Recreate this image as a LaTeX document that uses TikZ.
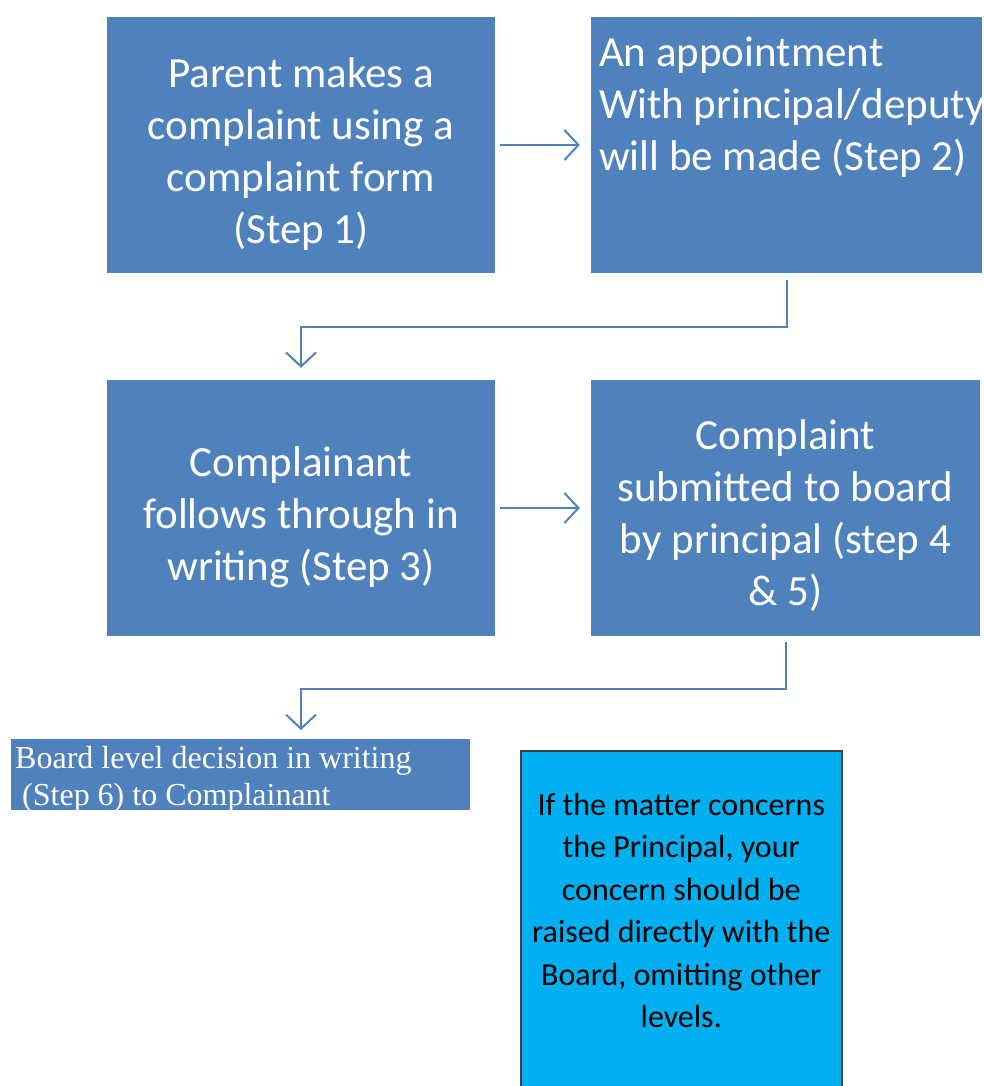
\documentclass[tikz,border=0pt]{standalone}
\usepackage{fontspec}
\setmainfont{Carlito}
\newfontfamily\timesfont{Liberation Serif}
\usetikzlibrary{calc, arrows.meta}
\definecolor{stepblue}{HTML}{4F81BD}
\definecolor{notecyan}{HTML}{00B0F0}
\definecolor{notegray}{HTML}{404040}

\begin{document}
\begin{tikzpicture}[x=1pt, y=-1pt,
    stepbox/.style={fill=stepblue, minimum width=388pt, minimum height=256pt, inner sep=0pt},
    steptext/.style={text=white, inner sep=0pt, align=center, font=\fontsize{43}{52}\selectfont},
    flow/.style={draw=stepblue, line width=2pt, -{Straight Barb[length=14pt, width=30pt, line width=2pt]}}]
    \useasboundingbox (0,0) rectangle (983,1086);
    % steps
    \node[stepbox] (b1) at (301,145) {};
    \node[steptext] (b1text) at ([yshift=-9pt]b1.center) {Parent makes a\\complaint using a\\complaint form\\(Step 1)};
    \node[stepbox, minimum width=391pt] (b2) at (786.5,145) {};
    \node[steptext, anchor=north west, align=left] (b2text) at ([xshift=8pt, yshift=-20pt]b2.north west) {An appointment\\With principal/deputy\\will be made (Step 2)};
    \node[stepbox] (b3) at (301,508) {};
    \node[steptext] (b3text) at ([yshift=-9pt]b3.center) {Complainant\\follows through in\\writing (Step 3)};
    \node[stepbox, minimum width=389pt] (b4) at (785.5,508) {};
    \node[steptext] (b4text) at ([yshift=-8pt]b4.center) {Complaint\\submitted to board\\by principal (step 4\\\& 5)};
    \node[fill=stepblue, anchor=north west, minimum width=459pt, minimum height=71pt, inner sep=0pt] (b5) at (11,739) {};
    \node[text=white, anchor=west, align=left, inner sep=0pt, font=\timesfont\fontsize{32}{37}\selectfont] (b5text) at ([xshift=4pt, yshift=-5pt]b5.west) {Board level decision in writing\\\hspace*{7pt}(Step 6) to Complainant};
    % note
    \node[fill=notecyan, draw=notegray, line width=1.5pt, anchor=north west, minimum width=321pt, minimum height=345pt] (note) at (520,750) {};
    \node[anchor=north, align=center, inner sep=0pt, font=\fontsize{32}{42.5}\selectfont] (notetext) at ([yshift=-43pt]note.north) {If the matter concerns\\the Principal, your\\concern should be\\raised directly with the\\Board, omitting other\\levels.};
    % arrows
    \draw[flow, shorten <=5pt, shorten >=11pt] (b1.east) -- (b2.west |- b1.east);
    \draw[flow, shorten <=7pt, shorten >=12pt] (b2.south) -- ++(0,54) -| (b3.north);
    \draw[flow, shorten <=5pt, shorten >=11pt] (b3.east) -- (b4.west |- b3.east);
    \draw[flow, shorten <=6pt, shorten >=9pt] (b4.south) -- ++(0,53) -| (b3.south |- b5.north);
\end{tikzpicture}
\end{document}
